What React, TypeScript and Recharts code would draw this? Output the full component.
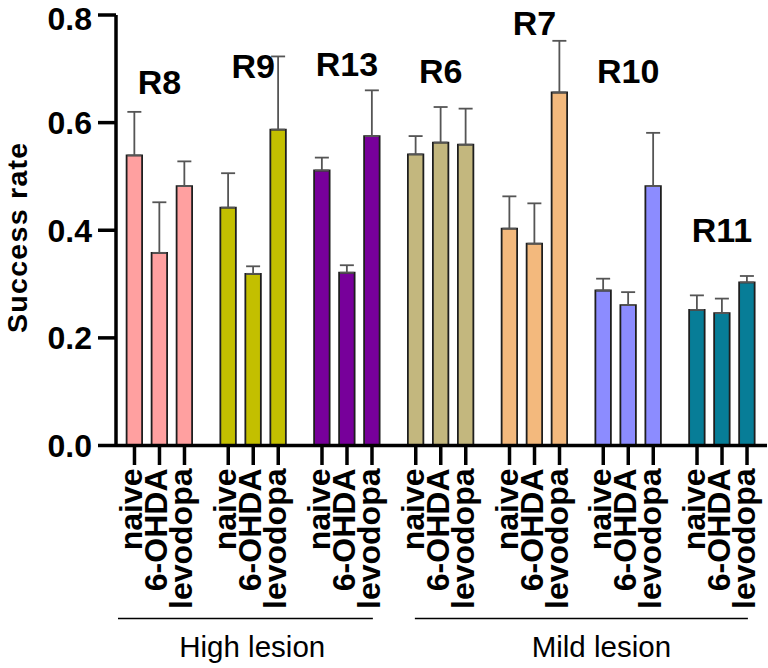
import React from 'react';
import { ComposedChart, Bar, Line, XAxis, YAxis, ErrorBar, Cell, LabelList } from 'recharts';

// ---------- data ----------
const groups = ['R8', 'R9', 'R13', 'R6', 'R7', 'R10', 'R11'];
const treatments = ['naive', '6-OHDA', 'levodopa'];
const naiveMean = [0.539, 0.442, 0.511, 0.541, 0.403, 0.288, 0.252];
const ohdaMean = [0.358, 0.319, 0.321, 0.563, 0.375, 0.261, 0.246];
const levodopaMean = [0.482, 0.587, 0.575, 0.559, 0.656, 0.482, 0.303];
const naiveSem = [0.081, 0.064, 0.024, 0.034, 0.06, 0.022, 0.027];
const ohdaSem = [0.094, 0.014, 0.014, 0.066, 0.075, 0.024, 0.027];
const levodopaSem = [0.046, 0.136, 0.085, 0.067, 0.096, 0.099, 0.012];
const groupLabelLevel = [0.654, 0.683, 0.686, 0.674, 0.762, 0.674, 0.379];
const groupColors = ['#FFA0A0', '#C3BF00', '#77009A', '#C3B77E', '#F3B97D', '#8C8CFF', '#077D97'];
const lesionLabels = ['High lesion', 'Mild lesion'];
const lesionFirstGroup = [0, 3];
const lesionLastGroup = [2, 6];
const yTicks = [0, 0.2, 0.4, 0.6, 0.8];

const data = groups.map((g, i) => ({
  name: g,
  naive: naiveMean[i],
  ohda: ohdaMean[i],
  levodopa: levodopaMean[i],
  naiveErr: naiveSem[i],
  ohdaErr: ohdaSem[i],
  levodopaErr: levodopaSem[i],
  labelLevel: groupLabelLevel[i],
}));

// ---------- layout ----------
const FONT = '"Liberation Sans", Arial, Helvetica, sans-serif';
const W = 768;
const H = 668;
const PLOT_LEFT = 116;
const PLOT_RIGHT = 767;
const PLOT_TOP = 15;
const PLOT_BOTTOM = 445.5;
const PAD_LEFT = -3.4;
const PAD_RIGHT = -1.9;
const BAND = (PLOT_RIGHT - PAD_RIGHT - (PLOT_LEFT + PAD_LEFT)) / groups.length;
const BAR_SIZE = 15.5;
const BAR_GAP = 9.5;
const PITCH = BAR_SIZE + BAR_GAP;
const TICK_LEN = 19.5;
const LABEL_TOP = 23;
const LESION_LINE_Y = 173;
const LESION_TEXT_Y = 211;
const LESION_INSET = 21;
const LESION_TEXT_DX = [-1, 20];

const XTick = (props: any) => {
  const { x, y, payload } = props;
  const idx = payload.index;
  const items: any[] = [];
  treatments.forEach((t, k) => {
    const cx = x + (k - 1) * PITCH;
    items.push(
      <line key={'l' + k} x1={cx} x2={cx} y1={y} y2={y + TICK_LEN} stroke="#000" strokeWidth={3.5} />
    );
    items.push(
      <text
        key={'t' + k}
        transform={`translate(${cx},${y + LABEL_TOP}) rotate(-90)`}
        dy={8}
        textAnchor="end"
        fontFamily={FONT}
        fontWeight={700}
        fontSize={32}
        fill="#000"
      >
        {t}
      </text>
    );
  });
  if (idx === 0) {
    const origin = x - BAND / 2;
    lesionLabels.forEach((lab, j) => {
      const bandStart = origin + lesionFirstGroup[j] * BAND;
      const bandEnd = origin + (lesionLastGroup[j] + 1) * BAND;
      const x1 = lesionFirstGroup[j] === 0 ? PLOT_LEFT + 2 : bandStart + LESION_INSET;
      const x2 = bandEnd - LESION_INSET;
      items.push(
        <line key={'ll' + j} x1={x1} x2={x2} y1={y + LESION_LINE_Y} y2={y + LESION_LINE_Y} stroke="#000" strokeWidth={1.5} />
      );
      items.push(
        <text
          key={'lt' + j}
          x={(bandStart + bandEnd) / 2 + LESION_TEXT_DX[j]}
          y={y + LESION_TEXT_Y}
          textAnchor="middle"
          fontFamily={FONT}
          fontSize={29.5}
          fill="#000"
        >
          {lab}
        </text>
      );
    });
  }
  return <g>{items}</g>;
};

const GroupLabel = (props: any) => {
  const { x, y, value } = props;
  return (
    <text x={x} y={y} textAnchor="middle" fontFamily={FONT} fontWeight={700} fontSize={34} fill="#000">
      {value}
    </text>
  );
};

const YLabel = (props: any) => {
  const vb = props.viewBox || { x: 0, y: PLOT_TOP, height: PLOT_BOTTOM - PLOT_TOP };
  const bx = vb.x + 27;
  const cy = vb.y + vb.height / 2 + 7;
  return (
    <text
      x={bx}
      y={cy}
      transform={`rotate(-90, ${bx}, ${cy})`}
      textAnchor="middle"
      fontFamily={FONT}
      fontWeight={700}
      fontSize={28.5}
      letterSpacing={1.3}
      fill="#000"
    >
      Success rate
    </text>
  );
};

const barKeys = [
  { key: 'naive', err: 'naiveErr' },
  { key: 'ohda', err: 'ohdaErr' },
  { key: 'levodopa', err: 'levodopaErr' },
];

export default function App() {
  return (
    <div style={{ position: 'absolute', left: 0, top: 0, background: '#fff' }}>
      <ComposedChart
        width={W}
        height={H}
        data={data}
        margin={{ top: PLOT_TOP, right: W - PLOT_RIGHT, bottom: 0, left: 0 }}
        barGap={BAR_GAP}
      >
        <XAxis
          dataKey="name"
          type="category"
          height={H - PLOT_BOTTOM}
          padding={{ left: PAD_LEFT, right: PAD_RIGHT }}
          interval={0}
          tickLine={false}
          tickSize={0}
          tickMargin={0}
          axisLine={{ stroke: '#000', strokeWidth: 3.5 }}
          tick={<XTick />}
        />
        <YAxis
          type="number"
          domain={[0, 0.8]}
          ticks={yTicks}
          width={PLOT_LEFT}
          tickSize={18}
          tickMargin={6}
          tickFormatter={(v: number) => v.toFixed(1)}
          axisLine={{ stroke: '#000', strokeWidth: 3.5 }}
          tickLine={{ stroke: '#000', strokeWidth: 3.5 }}
          tick={{ fill: '#000', fontSize: 32, fontWeight: 700, fontFamily: FONT }}
          allowDataOverflow
          label={{ value: 'Success rate', content: YLabel }}
        />
        {barKeys.map((b) => (
          <Bar
            key={b.key}
            dataKey={b.key}
            barSize={BAR_SIZE}
            stroke="#1e1e1e"
            strokeWidth={1.8}
            isAnimationActive={false}
          >
            {data.map((d, i) => (
              <Cell key={i} fill={groupColors[i]} />
            ))}
            <ErrorBar
              dataKey={(d: any) => [0, d[b.err]]}
              width={7}
              strokeWidth={1.8}
              stroke="#555"
              direction="y"
              isAnimationActive={false}
            />
          </Bar>
        ))}
        <Line
          dataKey="labelLevel"
          stroke="none"
          dot={false}
          activeDot={false}
          isAnimationActive={false}
          legendType="none"
        >
          <LabelList dataKey="name" content={GroupLabel} />
        </Line>
      </ComposedChart>
    </div>
  );
}
